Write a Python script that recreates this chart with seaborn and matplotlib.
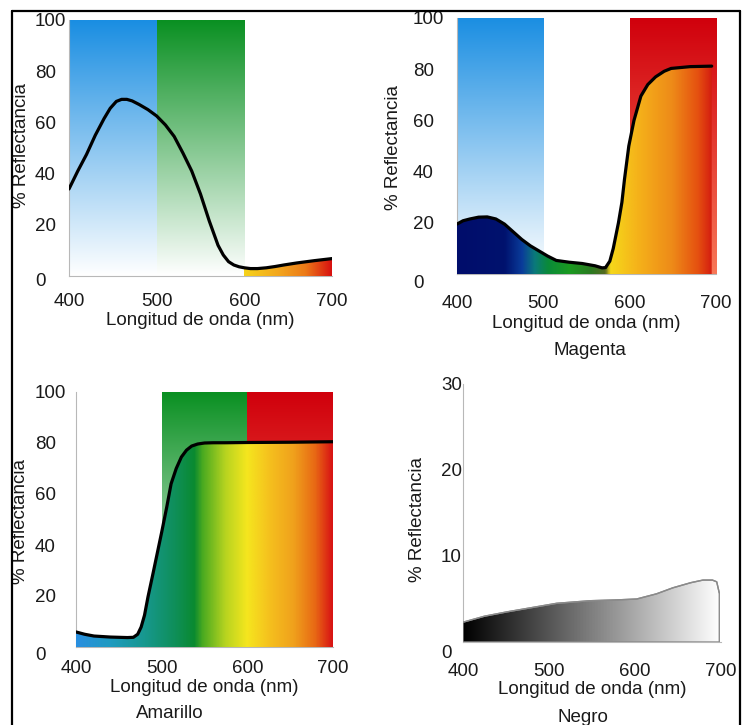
import numpy as np
import pandas as pd
import matplotlib
matplotlib.use("Agg")
import matplotlib.pyplot as plt
import seaborn as sns
from matplotlib.colors import LinearSegmentedColormap
from matplotlib.lines import Line2D
from matplotlib.transforms import ScaledTranslation

# ---------------- data ----------------
cyan_nm = [400, 410, 420, 430, 440, 447, 454, 460, 466, 472, 480, 490, 500, 510, 520, 530,
           540, 550, 560, 570, 576, 582, 588, 594, 600, 607, 615, 625, 635, 645, 660, 680, 700]
cyan_ref = [34, 41, 47.5, 55, 61.5, 65.5, 68.2, 69, 69, 68.4, 67, 65, 62.5, 59, 54.5, 48,
            41, 32, 21.5, 12, 8.2, 5.6, 4.3, 3.6, 3.2, 2.9, 2.9, 3.2, 3.7, 4.3, 5.1, 6.0, 6.8]

magenta_nm = [400, 407, 415, 425, 435, 445, 455, 465, 475, 485, 495, 505, 515, 530, 545, 560,
              568, 572, 577, 581, 587, 591, 594, 599, 605, 613, 621, 630, 640, 648, 670, 695]
magenta_ref = [19.5, 20.8, 21.5, 22.2, 22.3, 21.5, 19.5, 16.5, 13.5, 11, 9, 7, 5.3, 4.6, 4.1, 3.2,
               2.4, 2.5, 5, 10, 20, 28, 37, 50, 60, 69.5, 74, 77, 79.2, 80.3, 81, 81.2]

yellow_nm = [400, 410, 421, 440, 460, 467, 472, 476, 480, 484, 490, 495, 500, 506, 511, 517,
             523, 529, 535, 542, 550, 560, 575, 600, 650, 700]
yellow_ref = [5.9, 5.0, 4.3, 3.9, 3.7, 3.8, 5.0, 7.8, 12.5, 19.6, 29, 37, 45, 55, 64, 70,
              74.5, 77.2, 78.8, 79.6, 80, 80.1, 80.1, 80.2, 80.3, 80.5]

black_nm = [400, 425, 451, 480, 509, 548, 580, 602, 625, 644, 665, 679, 690, 695, 698]
black_ref = [2.3, 3.0, 3.5, 4.0, 4.5, 4.8, 4.9, 5.0, 5.6, 6.3, 6.9, 7.2, 7.2, 7.0, 5.7]

x_ticks = [400, 500, 600, 700]
y_ticks_full = [0, 20, 40, 60, 80, 100]
y_ticks_black = [0, 10, 20, 30]
x_label = "Longitud de onda (nm)"
y_label = "% Reflectancia"
titles = ["", "Magenta", "Amarillo", "Negro"]

# colour bands (nm ranges)
cyan_bands = [(400, 500, "blue"), (500, 600, "green")]
magenta_bands = [(400, 500, "blue"), (600, 700, "red")]
yellow_bands = [(500, 600, "green"), (600, 700, "red")]
black_bands = []

# ---------------- styles ----------------
band_colors = {"blue": ("#1a8ee2", "#ffffff"),
               "green": ("#0a9022", "#ffffff"),
               "red": ("#d0000c", "#f87858")}

stops_cyan = [(600, "#f6d31a"), (640, "#f2a51e"), (670, "#ec7a18"), (700, "#d81010")]
stops_magenta = [(400, "#000d6b"), (455, "#00126e"), (475, "#0a3c9a"), (490, "#0a7a7a"),
                 (505, "#0a8a3a"), (530, "#1a9a20"), (555, "#2a7a20"), (572, "#556a20"),
                 (578, "#f5d81a"), (610, "#f5b21a"), (650, "#ee8a18"), (680, "#e55010"),
                 (700, "#d01010")]
stops_yellow = [(400, "#2a8fe0"), (440, "#1f9bc0"), (480, "#17988e"), (515, "#0f8f5a"),
                (538, "#0a8a30"), (548, "#4aaa20"), (575, "#b8d420"), (600, "#f5e61e"),
                (625, "#f5c21e"), (655, "#f0a01c"), (680, "#e86814"), (700, "#d81414")]
stops_black = [(400, "#000000"), (700, "#ffffff")]

W, H = 742, 725
FS = 13.5
TXT = "#1a1a1a"

sns.set_theme(style="white")
plt.rcParams["font.family"] = ["Liberation Sans", "DejaVu Sans"]

fig = plt.figure(figsize=(W / 100, H / 100), dpi=100)
fig.patch.set_facecolor("white")


def fx(px):
    return px / W


def fy(py):
    return 1 - py / H


def panel(geom, nm, ref, ymax, yticks, bands, stops, line_kw,
          ytick_pad_px, xtick_pad_px, zero_drop_px, xlabel_y, ylabel_x, ylabel_y,
          title, title_xy, outline=False):
    x0, x1, ytop, ybot = geom
    ax = fig.add_axes([fx(x0), fy(ybot), (x1 - x0) / W, (ybot - ytop) / H])
    ax.set_facecolor("none")

    # vertical gradient bands
    for b0, b1, name in bands:
        top, bottom = band_colors[name]
        cm = LinearSegmentedColormap.from_list("b", [bottom, top])
        ax.imshow(np.linspace(0, 1, 256).reshape(-1, 1), cmap=cm, origin="lower",
                  extent=[b0, b1, 0, ymax], aspect="auto", zorder=1,
                  interpolation="bilinear")

    # spectral fill under the curve
    df = pd.DataFrame({"nm": nm, "ref": ref})
    if outline:
        coll = ax.fill_between(df["nm"], df["ref"], 0, facecolor="none",
                               edgecolor="#8a8a8a", lw=1.0, zorder=4)
    else:
        coll = ax.fill_between(df["nm"], df["ref"], 0, facecolor="none", lw=0, zorder=2)
    path = coll.get_paths()[0]
    lo, hi = stops[0][0], stops[-1][0]
    cm = LinearSegmentedColormap.from_list(
        "s", [((p - lo) / (hi - lo), c) for p, c in stops])
    grad = np.linspace(lo, hi, 600).reshape(1, -1)
    im = ax.imshow(grad, cmap=cm, vmin=lo, vmax=hi, origin="lower",
                   extent=[lo, hi, 0, ymax], aspect="auto", zorder=3,
                   interpolation="bilinear")
    im.set_clip_path(path, transform=ax.transData)

    sns.lineplot(data=df, x="nm", y="ref", ax=ax, estimator=None, sort=True,
                 zorder=5, **line_kw)

    ax.set_xlim(400, 700)
    ax.set_ylim(0, ymax)
    ax.set_xticks(x_ticks)
    ax.set_yticks(yticks)
    ax.set_xticklabels([str(t) for t in x_ticks])
    ax.set_yticklabels([str(t) for t in yticks])
    for s in ["top", "right"]:
        ax.spines[s].set_visible(False)
    for s in ["left", "bottom"]:
        ax.spines[s].set_color("#b8b8b8")
        ax.spines[s].set_linewidth(0.8)
    ax.tick_params(axis="both", length=0, labelsize=FS, labelcolor=TXT)
    ax.tick_params(axis="y", pad=ytick_pad_px * 0.72)
    ax.tick_params(axis="x", pad=xtick_pad_px * 0.72)
    for t in ax.yaxis.get_major_ticks():
        t.label1.set_horizontalalignment("left")
    z = ax.yaxis.get_major_ticks()[0].label1
    z.set_transform(z.get_transform() +
                    ScaledTranslation(0, -zero_drop_px / 100, fig.dpi_scale_trans))

    ax.set_xlabel(x_label, fontsize=FS, color=TXT)
    ax.set_ylabel(y_label, fontsize=FS, color=TXT)
    ax.xaxis.label.set_va("center")
    ax.yaxis.label.set_va("center")
    ax.xaxis.set_label_coords(0.5, (ybot - xlabel_y) / (ybot - ytop))
    ax.yaxis.set_label_coords((ylabel_x - x0) / (x1 - x0),
                              (ybot - ylabel_y) / (ybot - ytop))
    ax.grid(False)
    if title:
        fig.text(fx(title_xy[0]), fy(title_xy[1]), title, ha="center", va="center",
                 fontsize=FS, color=TXT)
    return ax


black_line = dict(color="black", lw=2.3)
grey_line = dict(color="#8a8a8a", lw=1.0)

panel((69, 332, 20, 276), cyan_nm, cyan_ref, 100, y_ticks_full, cyan_bands,
      stops_cyan, black_line, 34, 17, 4, 321, 22, 145, titles[0], None)
panel((457, 716, 18, 274), magenta_nm, magenta_ref, 100, y_ticks_full, magenta_bands,
      stops_magenta, black_line, 44, 21, 7, 323, 394, 147, titles[1], (590, 350))
panel((76, 333, 392, 647), yellow_nm, yellow_ref, 100, y_ticks_full, yellow_bands,
      stops_yellow, black_line, 41, 13, 7, 687, 21, 522, titles[2], (170, 714))
panel((463, 721, 384, 642), black_nm, black_ref, 30, y_ticks_black, black_bands,
      stops_black, grey_line, 22, 21, 10, 690, 417, 520, titles[3], (583, 717),
      outline=True)

# outer frame (left, top, right)
for xs, ys in [([12, 12], [11, H + 5]), ([12, 740], [11, 11]), ([740, 740], [11, H + 5])]:
    fig.add_artist(Line2D([fx(v) for v in xs], [fy(v) for v in ys], color="black",
                          lw=1.6, transform=fig.transFigure))

fig.savefig("out.png", dpi=100)
